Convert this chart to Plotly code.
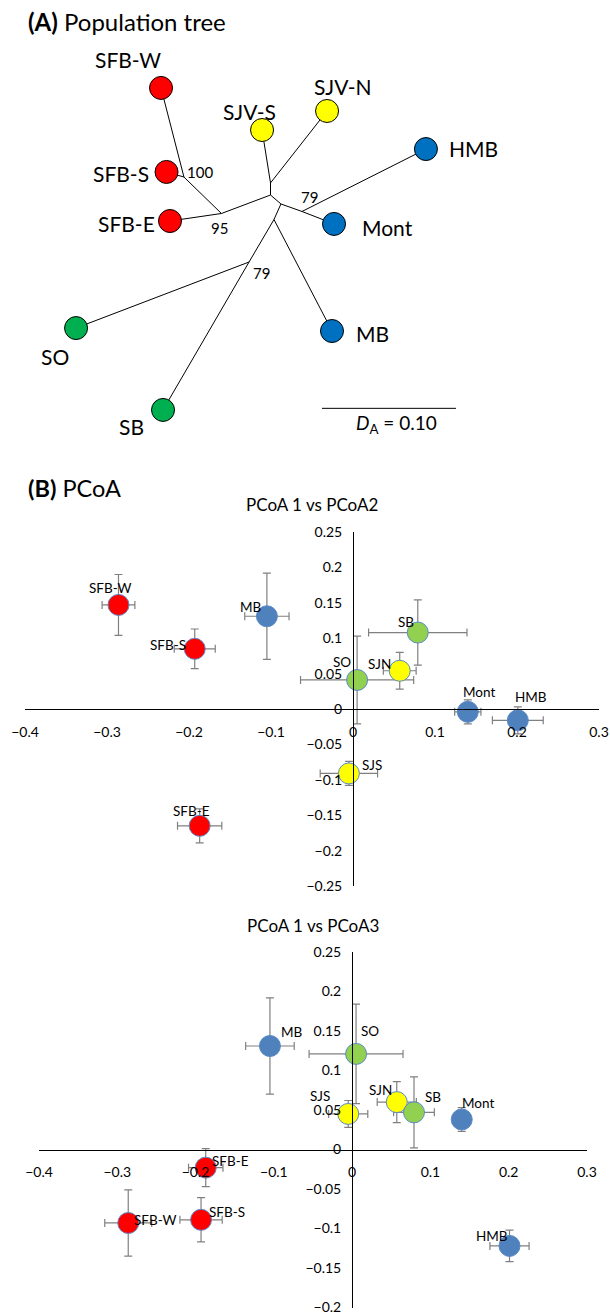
import plotly.graph_objects as go

W, H = 610, 1314
FONT = "Lato"

# ---------------- Panel A: population tree (coordinates in D_A units) ----------------
leaf_names = ["SFB-W", "SFB-S", "SFB-E", "SJV-S", "SJV-N", "HMB", "Mont", "MB", "SO", "SB"]
leaf_x = [-0.0817, -0.0776, -0.0750, -0.0063, 0.0422, 0.1160, 0.0474, 0.0459, -0.1451, -0.0802]
leaf_y = [0.0799, 0.0172, -0.0194, 0.0485, 0.0627, 0.0343, -0.0216, -0.1015, -0.0993, -0.1604]
leaf_group = ["SFB", "SFB", "SFB", "SJV", "SJV", "Coast", "Coast", "Coast", "South", "South"]

node_names = ["n100", "n95", "root", "nSJV", "nA", "n79a", "nB", "n79b"]
node_x = [-0.0646, -0.0366, 0.0, 0.0, 0.0078, 0.0235, 0.0026, -0.0160]
node_y = [0.0134, -0.0138, 0.0, 0.0090, -0.0067, -0.0123, -0.0183, -0.0500]

edges = [("SFB-W", "n100"), ("SFB-S", "n100"), ("n100", "n95"), ("SFB-E", "n95"),
         ("n95", "root"), ("root", "nSJV"), ("nSJV", "SJV-S"), ("nSJV", "SJV-N"),
         ("root", "nA"), ("nA", "n79a"), ("n79a", "HMB"), ("n79a", "Mont"),
         ("nA", "nB"), ("nB", "MB"), ("nB", "n79b"), ("n79b", "SO"), ("n79b", "SB")]

boot_nodes = ["n100", "n95", "n79a", "n79b"]
boot_values = [100, 95, 79, 79]
scale_len = 0.10

# ---------------- Panel B: PCoA ----------------
pops = ["SFB-W", "SFB-S", "SFB-E", "SJS", "SJN", "MB", "Mont", "HMB", "SO", "SB"]
pop_group = ["SFB", "SFB", "SFB", "SJV", "SJV", "Coast", "Coast", "Coast", "South", "South"]
pcoa1 = [-0.286, -0.193, -0.187, -0.005, 0.057, -0.105, 0.140, 0.201, 0.005, 0.079]
pcoa1_err_12 = [0.020, 0.025, 0.027, 0.035, 0.020, 0.027, 0.016, 0.031, 0.069, 0.060]
pcoa2 = [0.147, 0.085, -0.165, -0.091, 0.054, 0.131, -0.004, -0.016, 0.041, 0.108]
pcoa2_err = [0.043, 0.028, 0.024, 0.017, 0.026, 0.061, 0.017, 0.019, 0.062, 0.046]
pcoa1_err_13 = [0.030, 0.027, 0.022, 0.025, 0.025, 0.031, 0.010, 0.025, 0.060, 0.026]
pcoa3 = [-0.093, -0.089, -0.023, 0.045, 0.060, 0.131, 0.038, -0.122, 0.121, 0.047]
pcoa3_err = [0.042, 0.028, 0.024, 0.017, 0.026, 0.061, 0.015, 0.020, 0.063, 0.045]

# ---------------- styles ----------------
tree_colors = {"SFB": "#FF0000", "SJV": "#FFFF00", "Coast": "#0070C0", "South": "#00B050"}
pcoa_colors = {"SFB": "#FF0000", "SJV": "#FFFF00", "Coast": "#4F81BD", "South": "#92D050"}

# label offsets in pixels (dx right, dy down)
tree_label_off = {"SFB-W": (-33, -28), "SFB-S": (-46, 2), "SFB-E": (-44, 2), "SJV-S": (-13, -19),
                  "SJV-N": (16, -24), "HMB": (48, -1), "Mont": (53, 4), "MB": (40, 2),
                  "SO": (-21, 28), "SB": (-32, 17)}
boot_off = {"n100": (16, -5), "n95": (-2, 15), "n79a": (8, -14), "n79b": (12, 11)}
lab_off_12 = {"SFB-W": (-8, -17), "SFB-S": (-27, -4), "SFB-E": (-8, -15), "SJS": (23, -8),
              "SJN": (-20, -7), "MB": (-16, -9), "Mont": (11, -20), "HMB": (13, -23),
              "SO": (-15, -18), "SB": (-12, -11)}
lab_off_13 = {"SFB-W": (27, -3), "SFB-S": (26, -8), "SFB-E": (25, -7), "SJS": (-28, -18),
              "SJN": (-16, -12), "MB": (22, -14), "Mont": (16, -16), "HMB": (-18, -10),
              "SO": (14, -23), "SB": (19, -15)}

# tree pixel mapping (axis ranges in D_A units so that 0.10 spans the scale bar)
PX_PER_UNIT = 1340.0
ORIGIN_PX = (270.5, 195.0)
TREE_H = 460.0

fig = go.Figure()

pos = {n: (x, y) for n, x, y in zip(leaf_names, leaf_x, leaf_y)}
pos.update({n: (x, y) for n, x, y in zip(node_names, node_x, node_y)})
ex, ey = [], []
for a, b in edges:
    ex += [pos[a][0], pos[b][0], None]
    ey += [pos[a][1], pos[b][1], None]
fig.add_trace(go.Scatter(x=ex, y=ey, mode="lines", line=dict(color="black", width=1),
                         xaxis="x3", yaxis="y3", hoverinfo="skip"))
fig.add_trace(go.Scatter(x=leaf_x, y=leaf_y, mode="markers",
                         marker=dict(size=23, color=[tree_colors[g] for g in leaf_group],
                                     line=dict(color="black", width=1)),
                         xaxis="x3", yaxis="y3", text=leaf_names, hoverinfo="text"))
sb_x0, sb_y = 0.0384, -0.1592
fig.add_trace(go.Scatter(x=[sb_x0, sb_x0 + scale_len], y=[sb_y, sb_y], mode="lines",
                         line=dict(color="black", width=1), xaxis="x3", yaxis="y3",
                         hoverinfo="skip"))

annotations = []
for n, x, y in zip(leaf_names, leaf_x, leaf_y):
    dx, dy = tree_label_off[n]
    annotations.append(dict(x=x, y=y, xref="x3", yref="y3", text=n, showarrow=False,
                            xshift=dx, yshift=-dy, font=dict(size=21, family=FONT)))
for n, v in zip(boot_nodes, boot_values):
    dx, dy = boot_off[n]
    annotations.append(dict(x=pos[n][0], y=pos[n][1], xref="x3", yref="y3", text=str(v),
                            showarrow=False, xshift=dx, yshift=-dy,
                            font=dict(size=15, family=FONT)))
annotations.append(dict(x=sb_x0 + scale_len / 2, y=sb_y, xref="x3", yref="y3",
                        text="<i>D</i><sub>A</sub> = %.2f" % scale_len, showarrow=False,
                        yshift=-16, xshift=8, font=dict(size=19, family=FONT)))

# PCoA scatter traces
err_style = dict(type="data", color="#808080", thickness=1.2, width=4)
mk = dict(size=21, color=[pcoa_colors[g] for g in pop_group], line=dict(color="#5A8AC6", width=1))
fig.add_trace(go.Scatter(x=pcoa1, y=pcoa2, mode="markers", marker=mk, text=pops,
                         error_x=dict(array=pcoa1_err_12, **err_style),
                         error_y=dict(array=pcoa2_err, **err_style),
                         xaxis="x", yaxis="y", hoverinfo="text"))
fig.add_trace(go.Scatter(x=pcoa1, y=pcoa3, mode="markers", marker=mk, text=pops,
                         error_x=dict(array=pcoa1_err_13, **err_style),
                         error_y=dict(array=pcoa3_err, **err_style),
                         xaxis="x2", yaxis="y2", hoverinfo="text"))

for i, p in enumerate(pops):
    dx, dy = lab_off_12[p]
    annotations.append(dict(x=pcoa1[i], y=pcoa2[i], xref="x", yref="y", text=p,
                            showarrow=False, xshift=dx, yshift=-dy,
                            font=dict(size=13.5, family=FONT)))
    dx, dy = lab_off_13[p]
    annotations.append(dict(x=pcoa1[i], y=pcoa3[i], xref="x2", yref="y2", text=p,
                            showarrow=False, xshift=dx, yshift=-dy,
                            font=dict(size=13.5, family=FONT)))

# titles
annotations += [
    dict(x=26 / W, y=1 - 21.5 / H, xref="paper", yref="paper", xanchor="left", yanchor="middle",
         text="<b>(A)</b> Population tree", showarrow=False, font=dict(size=24, family=FONT)),
    dict(x=26 / W, y=1 - 488 / H, xref="paper", yref="paper", xanchor="left", yanchor="middle",
         text="<b>(B)</b> PCoA", showarrow=False, font=dict(size=23.5, family=FONT)),
    dict(x=312 / W, y=1 - 504 / H, xref="paper", yref="paper", xanchor="center", yanchor="middle",
         text="PCoA 1 vs PCoA2", showarrow=False, font=dict(size=17, family=FONT)),
    dict(x=313 / W, y=1 - 925 / H, xref="paper", yref="paper", xanchor="center", yanchor="middle",
         text="PCoA 1 vs PCoA3", showarrow=False, font=dict(size=17, family=FONT)),
]

ax = dict(showgrid=False, zeroline=False, showline=True, linecolor="black", linewidth=1,
          ticks="", tickfont=dict(size=14, family=FONT, color="black"), anchor="free",
          ticklabeloverflow="allow", fixedrange=True, automargin=False)


def pyd(px):
    return 1 - px / H


fig.update_layout(
    template="none",
    width=W, height=H, margin=dict(l=0, r=0, t=0, b=0, pad=0, autoexpand=False),
    paper_bgcolor="white", plot_bgcolor="rgba(0,0,0,0)", showlegend=False,
    font=dict(family=FONT, color="black"),
    annotations=annotations,
    xaxis=dict(ax, domain=[25 / W, 599 / W], range=[-0.4, 0.3], dtick=0.1, tick0=0,
               position=pyd(709), ticklabelstandoff=10),
    yaxis=dict(ax, domain=[pyd(886), pyd(532)], range=[-0.25, 0.25], dtick=0.05, tick0=0,
               position=353 / W, ticklabelstandoff=8),
    xaxis2=dict(ax, domain=[39 / W, 587 / W], range=[-0.4, 0.3], dtick=0.1, tick0=0,
                position=pyd(1149.5), ticklabelstandoff=10),
    yaxis2=dict(ax, domain=[pyd(1307.5), pyd(952)], range=[-0.2, 0.25], dtick=0.05, tick0=0,
                position=352 / W, ticklabelstandoff=8),
    xaxis3=dict(domain=[0, 1], anchor="y3", visible=False, fixedrange=True, automargin=False,
                range=[(0 - ORIGIN_PX[0]) / PX_PER_UNIT, (W - ORIGIN_PX[0]) / PX_PER_UNIT]),
    yaxis3=dict(domain=[pyd(TREE_H), 1], anchor="x3", visible=False, fixedrange=True,
                automargin=False,
                range=[(ORIGIN_PX[1] - TREE_H) / PX_PER_UNIT, ORIGIN_PX[1] / PX_PER_UNIT]),
)

fig.write_html("out.html", config={"displayModeBar": False},
               post_script="document.body.style.margin='0';"
                           "document.documentElement.style.overflow='hidden';")
